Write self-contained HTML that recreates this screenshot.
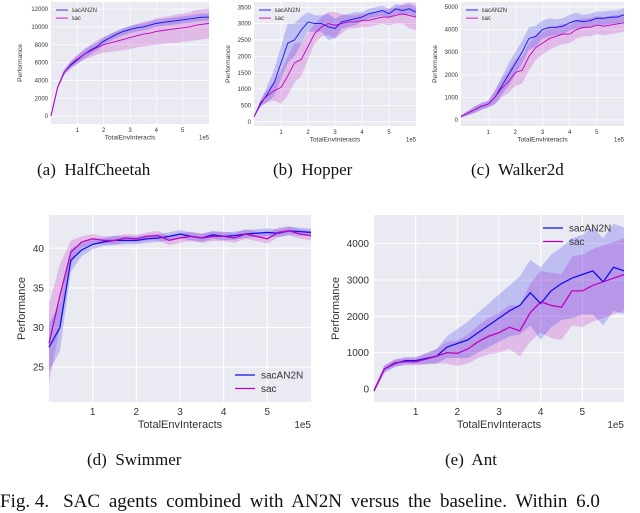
<!DOCTYPE html>
<html><head><meta charset="utf-8">
<style>
body{margin:0;background:#fff;width:640px;height:504px;overflow:hidden;position:relative;font-family:"Liberation Sans",sans-serif}
.cap{position:absolute;font-family:"Liberation Serif",serif;font-size:17px;color:#111;white-space:pre}
</style></head><body>
<svg id="fig" width="640" height="504" style="position:absolute;left:0;top:0"></svg>
<div class="cap" style="left:37px;top:160px">(a)  HalfCheetah</div>
<div class="cap" style="left:273px;top:160px">(b)  Hopper</div>
<div class="cap" style="left:471px;top:160px">(c)  Walker2d</div>
<div class="cap" style="left:87px;top:450px">(d)  Swimmer</div>
<div class="cap" style="left:445px;top:450px">(e)  Ant</div>
<div class="cap" style="left:0px;top:491px;font-size:19px">Fig. 4.<span style="margin-left:14px;word-spacing:4px">SAC agents combined with AN2N versus the baseline. Within 6.0</span></div>
<script>
const xs = [0,0.25,0.5,0.75,1,1.25,1.5,1.75,2,2.25,2.5,2.75,3,3.25,3.5,3.75,4,4.25,4.5,4.75,5,5.25,5.5,5.75,6];
const hcBlue=[0,3200,4900,5700,6300,6900,7400,7800,8400,8800,9200,9500,9700,9900,10000,10200,10400,10500,10600,10700,10800,10900,11000,11100,11100];
const hcSac=[0,3200,4900,5800,6400,6900,7300,7700,8000,8200,8400,8600,8800,9000,9200,9300,9500,9600,9700,9800,9900,10000,10200,10300,10400];
const hcBlueStd=[0,200,300,400,450,500,500,450,400,400,400,400,400,400,400,400,400,400,400,400,400,400,400,400,400];
const hcSacStd=[0,200,300,400,500,600,700,800,900,1000,1100,1200,1300,1300,1400,1400,1500,1500,1500,1600,1600,1600,1700,1700,1700];
const hoBlue=[150,550,850,1200,1800,2400,2500,2800,3050,3000,3000,2900,2850,3050,3100,3150,3200,3300,3350,3400,3300,3450,3400,3450,3350];
const hoSac=[150,600,800,950,1050,1400,1800,1900,2300,2700,2900,3000,2950,3000,3050,3050,3100,3100,3150,3200,3200,3250,3300,3250,3200];
const hoBlueStd=[0,100,250,400,500,600,500,400,300,250,250,400,300,200,200,200,150,150,150,150,150,150,150,150,150];
const hoSacStd=[0,100,200,300,500,600,600,500,400,300,300,350,400,300,200,200,200,200,200,200,250,250,300,400,400];
const waBlue=[150,300,450,600,700,1000,1500,2000,2500,3000,3600,3700,4000,4100,4100,4150,4300,4400,4350,4400,4500,4500,4550,4550,4650];
const waSac=[150,300,450,600,700,1000,1400,1700,2100,2200,2800,3200,3400,3600,3700,3800,3800,4000,4100,4100,4200,4150,4200,4250,4300];
const waBlueStd=[50,100,150,150,150,300,400,500,500,500,500,450,400,400,350,350,350,350,300,300,300,300,300,300,300];
const waSacStd=[50,100,150,150,150,300,400,500,600,600,600,550,500,500,450,450,400,400,400,400,400,400,400,400,400];
const swBlue=[27.5,30,38.5,39.8,40.5,40.8,41,41,41,41.2,41.3,41.5,41.8,41.5,41.3,41.7,41.5,41.6,41.8,41.9,42,41.9,42.2,42.1,42];
const swSac=[28,34,39.5,40.8,41.2,41,41,41.3,41.2,41.5,41.6,41,41.3,41.5,41.3,41.5,41.5,41.3,41.8,41.5,41.2,42,42.2,41.8,41.6];
const swBlueStd=[3,3,1.5,0.8,0.6,0.5,0.6,0.5,0.5,0.5,0.5,0.5,0.5,0.5,0.5,0.5,0.5,0.5,0.5,0.5,0.5,0.5,0.5,0.5,0.5];
const swSacStd=[5,4,1.5,0.7,0.6,0.5,0.5,0.5,0.5,0.5,0.6,0.6,0.6,0.6,0.6,0.6,0.6,0.6,0.6,0.6,0.6,0.6,0.6,0.6,0.6];
const anBlue=[-50,550,700,780,780,840,900,1150,1250,1350,1550,1750,1950,2150,2300,2650,2350,2700,2900,3050,3150,3250,2950,3350,3250];
const anSac=[-50,550,720,750,750,820,900,1000,980,1100,1300,1450,1550,1700,1600,2100,2400,2300,2250,2700,2700,2850,2950,3050,3150];
const anBlueStd=[50,100,100,100,100,150,200,300,400,500,550,600,650,700,800,900,1000,1000,1000,1100,1100,1200,1200,1200,1200];
const anSacStd=[50,100,100,100,100,150,200,300,350,400,450,500,550,600,700,800,850,900,900,950,1000,1000,1000,1000,1000];
const hcTicks=[0,2000,4000,6000,8000,10000,12000];
const hoTicks=[0,500,1000,1500,2000,2500,3000,3500];
const waTicks=[0,1000,2000,3000,4000,5000];
const swTicks=[25,30,35,40];
const anTicks=[0,1000,2000,3000,4000];
const xTicks=[1,2,3,4,5];

const NS="http://www.w3.org/2000/svg";
const fig=document.getElementById('fig');
function mk(tag,attrs,parent){const e=document.createElementNS(NS,tag);for(const k in attrs)e.setAttribute(k,attrs[k]);(parent||fig).appendChild(e);return e;}

function plot(p){
  const g=mk('g',{});
  
  
  const X=v=>p.x0+(v/6)*(p.x1-p.x0);
  const Y=v=>p.y1-(v-p.ymin)/(p.ymax-p.ymin)*(p.y1-p.y0);
  const bg=mk('rect',{x:p.x0,y:p.y0,width:p.x1-p.x0,height:p.y1-p.y0,fill:'#eaeaf2'},g);
  
  
  const fs=p.fs;
  xTicks.forEach(t=>{
    mk('line',{x1:X(t),x2:X(t),y1:p.y0,y2:p.y1,stroke:'#fff','stroke-width':p.gw},g);
    const tx=mk('text',{x:X(t),y:p.y1+fs*1.3,'font-size':fs,'text-anchor':'middle',fill:'#333'},g);
    tx.textContent=t;
    
    
  });
  p.ticks.forEach(t=>{
    mk('line',{x1:p.x0,x2:p.x1,y1:Y(t),y2:Y(t),stroke:'#fff','stroke-width':p.gw},g);
    const tx=mk('text',{x:p.x0-fs*0.5,y:Y(t)+fs*0.35,'font-size':fs,'text-anchor':'end',fill:'#333'},g);
    tx.textContent=t;
    
    
  });
  const series=[[p.sac,p.sacStd,'#c000c0','sac'],[p.blue,p.blueStd,'#1010ee','sacAN2N']];
  series.forEach(([m,s,c,n])=>{
    let up=xs.map((x,i)=>X(x)+','+Y(Math.min(p.ymax,m[i]+s[i])));
    let lo=xs.map((x,i)=>X(x)+','+Y(Math.max(p.ymin,m[i]-s[i]))).reverse();
    const b=mk('polygon',{points:up.concat(lo).join(' '),fill:c,'fill-opacity':0.2},g);
    
    
  });
  series.slice().reverse().forEach(([m,s,c,n])=>{
    const l=mk('polyline',{points:xs.map((x,i)=>X(x)+','+Y(m[i])).join(' '),fill:'none',stroke:c,'stroke-width':p.lw},g);
    
    
  });
  const xl=mk('text',{x:(p.x0+p.x1)/2,y:p.y1+fs*2.6,'font-size':fs*1.1,'text-anchor':'middle',fill:'#333'},g);
  xl.textContent='TotalEnvInteracts';
  
  
  const e5=mk('text',{x:p.x1,y:p.y1+fs*2.6,'font-size':fs,'text-anchor':'end',fill:'#333'},g);
  e5.textContent='1e5';
  
  
  const yl=mk('text',{x:0,y:0,'font-size':fs*1.1,'text-anchor':'middle',fill:'#333',transform:`translate(${p.ylx},${(p.y0+p.y1)/2}) rotate(-90)`},g);
  yl.textContent='Performance';
  
  
  [['sacAN2N','#1010ee'],['sac','#c000c0']].forEach(([n,c],i)=>{
    const ly=p.legY+i*fs*1.35;
    const le=mk('g',{},g);
    
    
    mk('line',{x1:p.legX,x2:p.legX+fs*2,y1:ly,y2:ly,stroke:c,'stroke-width':p.lw},le);
    const t=mk('text',{x:p.legX+fs*2.6,y:ly+fs*0.35,'font-size':fs,fill:'#333'},le);
    t.textContent=n;
  });
}
plot({name:'halfcheetah-chart',x0:51,x1:209,y0:2,y1:124,ymin:-900,ymax:12800,ticks:hcTicks,blue:hcBlue,sac:hcSac,blueStd:hcBlueStd,sacStd:hcSacStd,fs:6,gw:0.7,lw:0.9,ylx:22,legX:56,legY:10});
plot({name:'hopper-chart',x0:254,x1:416,y0:2,y1:126,ymin:-130,ymax:3660,ticks:hoTicks,blue:hoBlue,sac:hoSac,blueStd:hoBlueStd,sacStd:hoSacStd,fs:6,gw:0.7,lw:0.9,ylx:230,legX:259,legY:10});
plot({name:'walker2d-chart',x0:461,x1:624,y0:2,y1:126,ymin:-270,ymax:5220,ticks:waTicks,blue:waBlue,sac:waSac,blueStd:waBlueStd,sacStd:waSacStd,fs:6,gw:0.7,lw:0.9,ylx:437,legX:466,legY:10});
plot({name:'swimmer-chart',x0:49,x1:311,y0:215,y1:402,ymin:20.6,ymax:44.2,ticks:swTicks,blue:swBlue,sac:swSac,blueStd:swBlueStd,sacStd:swSacStd,fs:10,gw:1,lw:1.3,ylx:25,legX:235,legY:375});
plot({name:'ant-chart',x0:374,x1:624,y0:215,y1:402,ymin:-360,ymax:4790,ticks:anTicks,blue:anBlue,sac:anSac,blueStd:anBlueStd,sacStd:anSacStd,fs:10,gw:1,lw:1.3,ylx:339,legX:543,legY:228});
</script>
</body></html>
